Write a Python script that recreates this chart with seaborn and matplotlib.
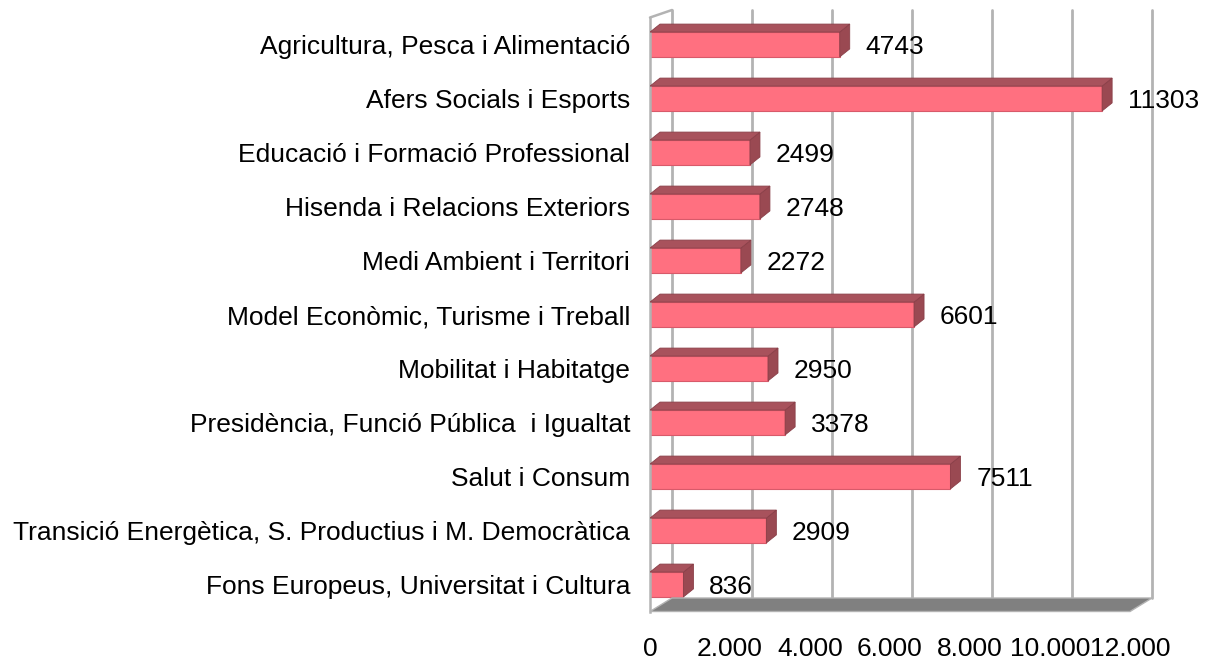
import matplotlib
matplotlib.use("Agg")
import matplotlib.pyplot as plt
from matplotlib.patches import Polygon
from matplotlib.lines import Line2D
from matplotlib.ticker import FuncFormatter
import seaborn as sns
import pandas as pd

categories = [
    "Agricultura, Pesca i Alimentació",
    "Afers Socials i Esports",
    "Educació i Formació Professional",
    "Hisenda i Relacions Exteriors",
    "Medi Ambient i Territori",
    "Model Econòmic, Turisme i Treball",
    "Mobilitat i Habitatge",
    "Presidència, Funció Pública  i Igualtat",
    "Salut i Consum",
    "Transició Energètica, S. Productius i M. Democràtica",
    "Fons Europeus, Universitat i Cultura",
]
values = [4743, 11303, 2499, 2748, 2272, 6601, 2950, 3378, 7511, 2909, 836]
xticks = [0, 2000, 4000, 6000, 8000, 10000, 12000]

sns.set_theme(style="white")
plt.rcParams["font.family"] = ["Liberation Sans", "DejaVu Sans"]
FS = 19.0

W, H = 1216, 660
fig = plt.figure(figsize=(W / 100, H / 100), dpi=100)

# back wall (grid lines)
bx0, bx1, by_top, by_bot = 672, 1152, 10, 598
ax_back = fig.add_axes([bx0 / W, (H - by_bot) / H, (bx1 - bx0) / W, (by_bot - by_top) / H])
ax_back.set_xlim(0, 12000)
ax_back.set_xticks(xticks)
ax_back.set_yticks([])
ax_back.tick_params(axis="x", length=0, labelbottom=False)
ax_back.grid(axis="x", color="#b3b3b3", linewidth=2.0)
for gl in ax_back.get_xgridlines():
    gl.set_clip_on(False)
for s in ax_back.spines.values():
    s.set_visible(False)
ax_back.patch.set_alpha(0)

# front plane (bars)
fx0, fx1, fy_top, fy_bot = 650, 1130, 17.5, 611.5
ax = fig.add_axes([fx0 / W, (H - fy_bot) / H, (fx1 - fx0) / W, (fy_bot - fy_top) / H])
ax.patch.set_alpha(0)
df = pd.DataFrame({"cat": categories, "val": values})
sns.barplot(data=df, x="val", y="cat", orient="h", color="#ff7080", saturation=1,
            width=0.46, edgecolor="#d85a6a", linewidth=0.8, ax=ax)
ax.set_xlim(0, 12000)
ax.set_ylim(len(categories) - 0.5, -0.5)
ax.set_xlabel("")
ax.set_ylabel("")
ax.set_xticks(xticks)
ax.xaxis.set_major_formatter(FuncFormatter(lambda v, p: f"{v:,.0f}".replace(",", ".")))
ax.tick_params(axis="x", length=0, pad=18.5, labelsize=FS, colors="black")
ax.tick_params(axis="y", length=0, pad=14.4, labelsize=FS, colors="black")
for t in ax.get_yticklabels():
    t.set_y(t.get_position()[1])
for name, s in ax.spines.items():
    s.set_visible(name == "left")
ax.spines["left"].set_color("#b3b3b3")
ax.spines["left"].set_linewidth(1.8)

# 3D faces of bars
inv = ax.transData.inverted()
p0 = inv.transform((0, 0))
p1 = inv.transform((10, 8))
ddx, ddy = p1[0] - p0[0], p1[1] - p0[1]
for patch in ax.patches:
    x0, y0 = patch.get_x(), patch.get_y()
    w, h = patch.get_width(), patch.get_height()
    x1 = x0 + w
    ytop, ybot = min(y0, y0 + h), max(y0, y0 + h)
    side = Polygon([(x1, ytop), (x1, ybot), (x1 + ddx, ybot + ddy), (x1 + ddx, ytop + ddy)],
                   closed=True, facecolor="#9a4952", edgecolor="#8a3f48", linewidth=0.6, zorder=3)
    top = Polygon([(x0, ytop), (x1, ytop), (x1 + ddx, ytop + ddy), (x0 + ddx, ytop + ddy)],
                  closed=True, facecolor="#a8525c", edgecolor="#8a3f48", linewidth=0.6, zorder=3)
    ax.add_patch(side)
    ax.add_patch(top)

texts = ax.bar_label(ax.containers[0], labels=[str(v) for v in values], padding=18.5,
                     fontsize=FS, color="black")
for t in texts:
    t.xyann = (18.5, -1.5)

# left wall top slant
fig.add_artist(Line2D([fx0 / W, bx0 / W], [(H - fy_top) / H, (H - by_top) / H],
                      transform=fig.transFigure, color="#b3b3b3", linewidth=1.8))
# floor
floor = Polygon([(fx0 / W, (H - fy_bot) / H), (fx1 / W, (H - fy_bot) / H),
                 (bx1 / W, (H - by_bot) / H), (bx0 / W, (H - by_bot) / H)],
                closed=True, transform=fig.transFigure, facecolor="#808080",
                edgecolor="#b3b3b3", linewidth=1.0)
fig.add_artist(floor)

fig.savefig("out.png", dpi=100)
